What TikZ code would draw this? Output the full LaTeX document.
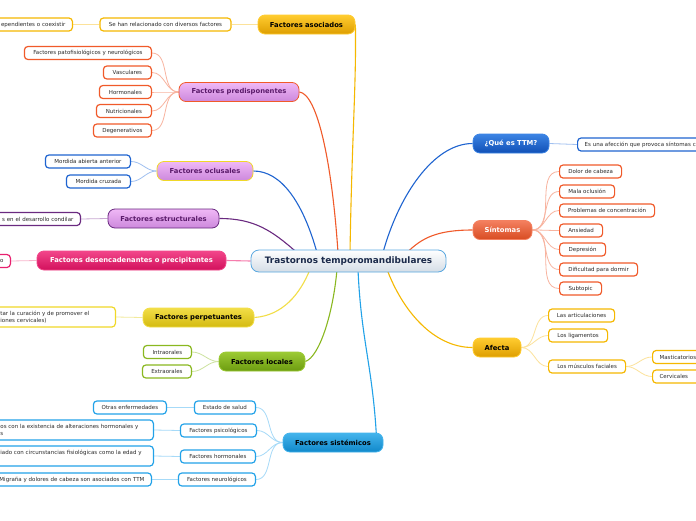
\documentclass[tikz,border=0pt]{standalone}
\usepackage{fontspec}
\setmainfont{DejaVu Sans}
\usetikzlibrary{calc,backgrounds}
\definecolor{txt}{HTML}{2A2A2A}
\definecolor{navy}{HTML}{1B2A4A}
\definecolor{purp}{HTML}{5A1A6A}
% branch colours
\definecolor{gold}{HTML}{F5B800}
\definecolor{goldT}{HTML}{FFCC30}
\definecolor{goldB}{HTML}{DE9E00}
\definecolor{goldL}{HTML}{FCE29A}
\definecolor{orng}{HTML}{F05A2A}
\definecolor{orngT}{HTML}{F48060}
\definecolor{orngB}{HTML}{D84C22}
\definecolor{orngL}{HTML}{F8B4A0}
\definecolor{lavT}{HTML}{F0B8F6}
\definecolor{lavB}{HTML}{CC88DC}
\definecolor{yelw}{HTML}{F0D828}
\definecolor{yelT}{HTML}{F2DE48}
\definecolor{yelB}{HTML}{D4BA10}
\definecolor{yelL}{HTML}{F2EA9C}
\definecolor{blu}{HTML}{1F64D0}
\definecolor{bluT}{HTML}{3C84E4}
\definecolor{bluB}{HTML}{1050B6}
\definecolor{bluL}{HTML}{A0C0F0}
\definecolor{prp}{HTML}{6A2A80}
\definecolor{prpL}{HTML}{C8A8D2}
\definecolor{pnk}{HTML}{E8206F}
\definecolor{pnkT}{HTML}{F2468A}
\definecolor{pnkB}{HTML}{D2105C}
\definecolor{pnkL}{HTML}{F8B4CC}
\definecolor{grn}{HTML}{8AB820}
\definecolor{grnT}{HTML}{9CCA34}
\definecolor{grnB}{HTML}{6C9C10}
\definecolor{grnL}{HTML}{CCE29E}
\definecolor{sky}{HTML}{22A2E8}
\definecolor{skyT}{HTML}{44B4EC}
\definecolor{skyB}{HTML}{1088CA}
\definecolor{skyL}{HTML}{A6DAF8}
\definecolor{ctrT}{HTML}{FFFFFF}
\definecolor{ctrB}{HTML}{D4DDE6}
\definecolor{ctrD}{HTML}{5AA8E0}
\tikzset{
  mainbox/.style={rounded corners=7pt, line width=0.8pt, minimum height=19pt,
    inner xsep=5pt, inner ysep=0pt, font=\fontsize{6.8}{7.8}\selectfont\bfseries},
  subbox/.style={draw, fill=white, rounded corners=3.5pt, line width=1.2pt,
    minimum height=13pt, inner xsep=7pt, inner ysep=0pt, text=txt,
    font=\fontsize{5.5}{7}\selectfont},
  clipl/.style={anchor=east, text width=200pt, align=right},
  conn/.style={line width=1.1pt},
  subconn/.style={line width=0.8pt},
}
\begin{document}
\begin{tikzpicture}[x=1pt,y=-1pt]
\useasboundingbox (0,0) rectangle (696,520);

% centre
\node[rounded corners=8pt, line width=0.8pt, draw=ctrD, top color=ctrT, bottom color=ctrB,
  minimum width=195pt, minimum height=22pt, inner ysep=0pt, text=navy,
  font=\fontsize{8.9}{9.9}\selectfont\bfseries] (ctr) at (348.5,261) {Trastornos temporomandibulares};

% main topics
\node[mainbox, minimum width=97pt, top color=goldT, bottom color=goldB, draw=goldT, text=black] (asoc) at (306.5,24.5) {Factores asociados};
\node[mainbox, minimum width=120pt, top color=lavT, bottom color=lavB, draw=orng, text=purp] (pred) at (239,92) {Factores predisponentes};
\node[mainbox, minimum width=96pt, top color=lavT, bottom color=lavB, draw=yelw, text=purp] (ocl) at (205,171) {Factores oclusales};
\node[mainbox, minimum width=111pt, top color=lavT, bottom color=lavB, draw=prp, text=purp] (estr) at (163.5,218.5) {Factores estructurales};
\node[mainbox, minimum width=189pt, top color=pnkT, bottom color=pnkB, draw=pnkT, text=white] (desenc) at (131.5,260.5) {Factores desencadenantes o precipitantes};
\node[mainbox, minimum width=111pt, top color=yelT, bottom color=yelB, draw=yelT, text=black] (perp) at (198.5,317.5) {Factores perpetuantes};
\node[mainbox, minimum width=86pt, top color=grnT, bottom color=grnB, draw=grnT, text=black] (loc) at (262,361.5) {Factores locales};
\node[mainbox, minimum width=100pt, top color=skyT, bottom color=skyB, draw=skyT, text=black] (sist) at (333,442.5) {Factores sistémicos};
\node[mainbox, minimum width=76pt, top color=bluT, bottom color=bluB, draw=bluT, text=white] (ttm) at (511,143.5) {¿Qué es TTM?};
\node[mainbox, minimum width=59pt, top color=orngT, bottom color=orngB, draw=orngT, text=white] (sint) at (502.5,230) {Síntomas};
\node[mainbox, minimum width=48pt, top color=goldT, bottom color=goldB, draw=goldT, text=black] (afec) at (497,347.5) {Afecta};

% Factores asociados
\node[subbox, draw=gold, minimum width=131pt] (asoc1) at (165.5,24.5) {Se han relacionado con diversos factores};
\node[subbox, draw=gold, clipl] (asoc2) at (73,24.5) {ependientes o coexistir};

% Factores predisponentes
\node[subbox, draw=orng, anchor=east, minimum width=127pt] (pred1) at (152,53) {Factores patofisiológicos y neurológicos};
\node[subbox, draw=orng, anchor=east, minimum width=48pt] (pred2) at (152,72.5) {Vasculares};
\node[subbox, draw=orng, anchor=east, minimum width=52pt] (pred3) at (152,92) {Hormonales};
\node[subbox, draw=orng, anchor=east, minimum width=55pt] (pred4) at (152,111) {Nutricionales};
\node[subbox, draw=orng, anchor=east, minimum width=58pt] (pred5) at (152,130.5) {Degenerativos};

% Factores oclusales
\node[subbox, draw=blu, anchor=east, minimum width=85pt] (ocl1) at (131,161.5) {Mordida abierta anterior};
\node[subbox, draw=blu, anchor=east, minimum width=64pt] (ocl2) at (131,181.5) {Mordida cruzada};

% Factores estructurales
\node[subbox, draw=prp, clipl] (estr1) at (81,219) {s en el desarrollo condilar};

% Factores desencadenantes
\node[subbox, draw=pnk, clipl] (desenc1) at (11,261) {o};

% Factores perpetuantes
\node[subbox, draw=yelw, anchor=east, minimum height=20pt, text width=108pt, align=left] (perp1) at (116,317) {tar la curación y de promover el\\iones cervicales)};

% Factores locales
\node[subbox, draw=grn, anchor=east, minimum width=48pt] (loc1) at (192,352) {Intraorales};
\node[subbox, draw=grn, anchor=east, minimum width=49pt] (loc2) at (192,371.5) {Extraorales};

% Factores sistemicos
\node[subbox, draw=sky, anchor=east, minimum width=61pt] (sist1) at (256,407.5) {Estado de salud};
\node[subbox, draw=sky, anchor=east, minimum width=73pt] (sist1a) at (167,407.5) {Otras enfermedades};
\node[subbox, draw=sky, anchor=east, minimum width=76pt] (sist2) at (257,430.5) {Factores psicológicos};
\node[subbox, draw=sky, anchor=east, minimum height=20pt, text width=146pt, align=left] (sist2a) at (154,430) {os con la existencia de alteraciones hormonales y\\s};
\node[subbox, draw=sky, anchor=east, minimum width=75pt] (sist3) at (256,456.5) {Factores hormonales};
\node[subbox, draw=sky, anchor=east, minimum height=20pt, text width=146pt, align=left] (sist3a) at (154,456) {iado con circunstancias fisiológicas como la edad y\\\mbox{}};
\node[subbox, draw=sky, anchor=east, minimum width=77pt] (sist4) at (256,479.5) {Factores neurológicos};
\node[subbox, draw=sky, clipl] (sist4a) at (152,479.5) {Migraña y dolores de cabeza son asociados con TTM};

% Que es TTM
\node[subbox, draw=blu, anchor=west, text width=140pt, align=left] (ttm1) at (577,144.5) {Es una afección que provoca síntomas c};

% Sintomas
\node[subbox, draw=orng, anchor=west, minimum width=62pt] (s1) at (559,171.5) {Dolor de cabeza};
\node[subbox, draw=orng, anchor=west, minimum width=55pt] (s2) at (559,191.5) {Mala oclusión};
\node[subbox, draw=orng, anchor=west, minimum width=95pt] (s3) at (559,210.5) {Problemas de concentración};
\node[subbox, draw=orng, anchor=west, minimum width=43pt] (s4) at (559,230.5) {Ansiedad};
\node[subbox, draw=orng, anchor=west, minimum width=46pt] (s5) at (559,249.5) {Depresión};
\node[subbox, draw=orng, anchor=west, minimum width=78pt] (s6) at (559,269.5) {Dificultad para dormir};
\node[subbox, draw=orng, anchor=west, minimum width=42pt] (s7) at (559,288.5) {Subtopic};

% Afecta
\node[subbox, draw=gold, anchor=west, minimum width=66pt] (a1) at (548,315.5) {Las articulaciones};
\node[subbox, draw=gold, anchor=west, minimum width=59pt] (a2) at (548,335.5) {Los ligamentos};
\node[subbox, draw=gold, anchor=west, minimum width=77pt] (a3) at (548,366.5) {Los músculos faciales};
\node[subbox, draw=gold, anchor=west, text width=55pt, align=left] (a31) at (652,357) {Masticatorios};
\node[subbox, draw=gold, anchor=west, text width=55pt, align=left] (a32) at (652,376.5) {Cervicales};

\begin{scope}[on background layer]
\fill[white] (0,0) rectangle (696,520);
% main connectors
\draw[conn, gold] (asoc.east) .. controls +(1,60) and +(2,-120) .. ($(ctr.north)+(1.5,3)$);
\draw[conn, orng] (pred.east) .. controls +(18,2) and +(-6,-90) .. ($(ctr.north)+(-10.5,3)$);
\draw[conn, blu] (ocl.east) .. controls +(28,0) and +(-14,-50) .. ($(ctr.north)+(-31.5,3)$);
\draw[conn, prp] (estr.east) .. controls +(35,0) and +(-25,-22) .. ($(ctr.north)+(-51.5,3)$);
\draw[conn, pnkT!70] (desenc.east) -- (ctr.west);
\draw[conn, yelT] (perp.east) .. controls +(28,-2) and +(-10,25) .. ($(ctr.south)+(-38.5,-3)$);
\draw[conn, grn] (loc.east) .. controls +(14,-5) and +(-4,45) .. ($(ctr.south)+(-11.5,-3)$);
\draw[conn, sky] ($(sist.north east)+(-7,3)$) .. controls +(-4,-70) and +(3,70) .. ($(ctr.south)+(9.5,-3)$);
\draw[conn, blu] ($(ctr.north)+(34.5,3)$) .. controls +(15,-55) and +(-40,0) .. (ttm.west);
\draw[conn, orng] ($(ctr.north)+(58.5,3)$) .. controls +(15,-15) and +(-35,0) .. (sint.west);
\draw[conn, gold] ($(ctr.south)+(38.5,-3)$) .. controls +(15,40) and +(-40,0) .. (afec.west);
% sub connectors
\draw[subconn, goldL] (asoc.west) -- (asoc1.east);
\draw[subconn, goldL] (asoc1.west) -- (asoc2.east);
\foreach \n in {pred1,pred2,pred3,pred4,pred5}
  \draw[subconn, orngL] (pred.west) to[out=180,in=0] (\n.east);
\foreach \n in {ocl1,ocl2}
  \draw[subconn, bluL] (ocl.west) to[out=180,in=0] (\n.east);
\draw[subconn, prpL] (estr.west) -- (estr1.east);
\draw[subconn, pnkL] (desenc.west) -- (desenc1.east);
\draw[subconn, yelL] (perp.west) -- (perp1.east);
\foreach \n in {loc1,loc2}
  \draw[subconn, grnL] (loc.west) to[out=180,in=0] (\n.east);
\foreach \n in {sist1,sist2,sist3,sist4}
  \draw[subconn, skyL] (sist.west) to[out=180,in=0] (\n.east);
\draw[subconn, skyL] (sist1.west) -- (sist1a.east);
\draw[subconn, skyL] (sist2.west) -- (sist2a.east);
\draw[subconn, skyL] (sist3.west) -- (sist3a.east);
\draw[subconn, skyL] (sist4.west) -- (sist4a.east);
\draw[subconn, bluL] (ttm.east) -- (ttm1.west);
\foreach \n in {s1,s2,s3,s4,s5,s6,s7}
  \draw[subconn, orngL] (sint.east) to[out=0,in=180] (\n.west);
\foreach \n in {a1,a2,a3}
  \draw[subconn, goldL] (afec.east) to[out=0,in=180] (\n.west);
\foreach \n in {a31,a32}
  \draw[subconn, goldL] (a3.east) to[out=0,in=180] (\n.west);
\end{scope}
\end{tikzpicture}
\end{document}
